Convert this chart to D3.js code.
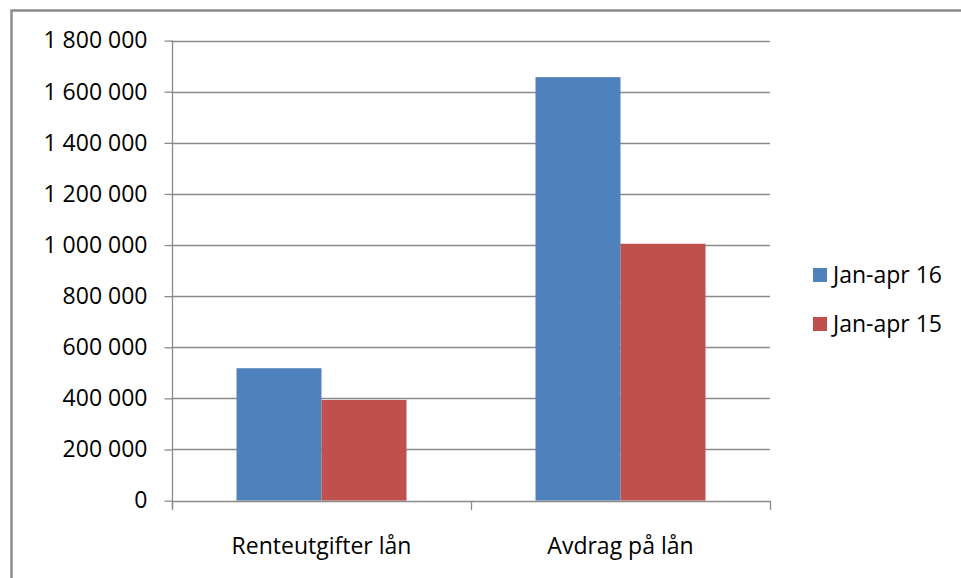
<!DOCTYPE html>
<html>
<head>
<meta charset="utf-8">
<script src="https://cdn.jsdelivr.net/npm/d3@7/dist/d3.min.js"></script>
<style>
  html, body { margin: 0; padding: 0; background: #fff; }
  svg { display: block; }
  text { font-family: "Open Sans", "Noto Sans", sans-serif; fill: #000; }
</style>
</head>
<body>
<svg id="chart" width="961" height="578"></svg>
<script>
const categories = ["Renteutgifter lån", "Avdrag på lån"];
const seriesNames = ["Jan-apr 16", "Jan-apr 15"];
const seriesColors = ["#4f81bd", "#c0504d"];
const valuesJan16 = [518000, 1657000];
const valuesJan15 = [394000, 1005000];
const yTicks = [0, 200000, 400000, 600000, 800000, 1000000, 1200000, 1400000, 1600000, 1800000];

const series = [valuesJan16, valuesJan15];

const svg = d3.select("#chart");
const W = 961, H = 578;
const plot = { left: 172, right: 770, top: 40.6, bottom: 500.6 };
const fontSize = 23;

// outer frame
svg.append("rect")
  .attr("x", 11.5).attr("y", 10.5)
  .attr("width", W + 20).attr("height", H + 20)
  .attr("fill", "#fff").attr("stroke", "#8c8c8c").attr("stroke-width", 2.5);

const y = d3.scaleLinear().domain([0, 1800000]).range([plot.bottom, plot.top]);
const x0 = d3.scaleBand().domain(categories).range([plot.left, plot.right])
  .paddingInner(0.4314).paddingOuter(0.2157);
const x1 = d3.scaleBand().domain(seriesNames).range([0, x0.bandwidth()]);

const fmt = v => d3.format(",")(v).replace(/,/g, " ");

// gridlines
svg.append("g")
  .selectAll("line").data(yTicks.filter(t => t > 0)).join("line")
  .attr("x1", plot.left).attr("x2", plot.right)
  .attr("y1", d => Math.round(y(d)) + 0.5).attr("y2", d => Math.round(y(d)) + 0.5)
  .attr("stroke", "#8a8a8a").attr("stroke-width", 1.3);

// bars
const groups = svg.append("g").selectAll("g").data(categories).join("g")
  .attr("transform", d => `translate(${x0(d)},0)`);
groups.selectAll("rect").data((c, i) => seriesNames.map((s, j) => ({ s, v: series[j][i], j })))
  .join("rect")
  .attr("x", d => x1(d.s))
  .attr("width", x1.bandwidth())
  .attr("y", d => y(d.v))
  .attr("height", d => y(0) - y(d.v))
  .attr("fill", d => seriesColors[d.j]);

// y axis
const yAxis = d3.axisLeft(y).tickValues(yTicks).tickSize(8).tickPadding(17).tickFormat(fmt);
const gy = svg.append("g").attr("transform", `translate(${plot.left + 0.5},0)`).call(yAxis);
gy.select(".domain").remove();
gy.selectAll(".tick line").attr("stroke", "#8a8a8a").attr("stroke-width", 1.3);
gy.selectAll(".tick text").attr("font-size", fontSize).attr("font-family", "Open Sans").attr("fill", "#000");
svg.append("line").attr("x1", plot.left + 0.5).attr("x2", plot.left + 0.5)
  .attr("y1", plot.top).attr("y2", plot.bottom + 8)
  .attr("stroke", "#8a8a8a").attr("stroke-width", 1.3);

// x axis
svg.append("line").attr("x1", plot.left).attr("x2", plot.right + 0.5)
  .attr("y1", Math.round(y(0)) + 0.5).attr("y2", Math.round(y(0)) + 0.5)
  .attr("stroke", "#8a8a8a").attr("stroke-width", 1.3);
const boundaries = [plot.left, ...categories.slice(1).map(c => x0(c) - x0.step() * x0.paddingInner() / 2), plot.right];
svg.append("g").selectAll("line").data(boundaries).join("line")
  .attr("x1", d => Math.round(d) + 0.5).attr("x2", d => Math.round(d) + 0.5)
  .attr("y1", Math.round(y(0))).attr("y2", Math.round(y(0)) + 9)
  .attr("stroke", "#8a8a8a").attr("stroke-width", 1.3);
svg.append("g").selectAll("text").data(categories).join("text")
  .attr("x", d => x0(d) + x0.bandwidth() / 2)
  .attr("y", 554)
  .attr("text-anchor", "middle")
  .attr("font-size", fontSize)
  .text(d => d);

// legend
const lg = svg.append("g").selectAll("g").data(seriesNames).join("g")
  .attr("transform", (d, i) => `translate(813,${268 + i * 49})`);
lg.append("rect").attr("width", 14).attr("height", 14).attr("fill", (d, i) => seriesColors[i]);
lg.append("text").attr("x", 20).attr("y", 15).attr("font-size", fontSize).text(d => d);
</script>
</body>
</html>
